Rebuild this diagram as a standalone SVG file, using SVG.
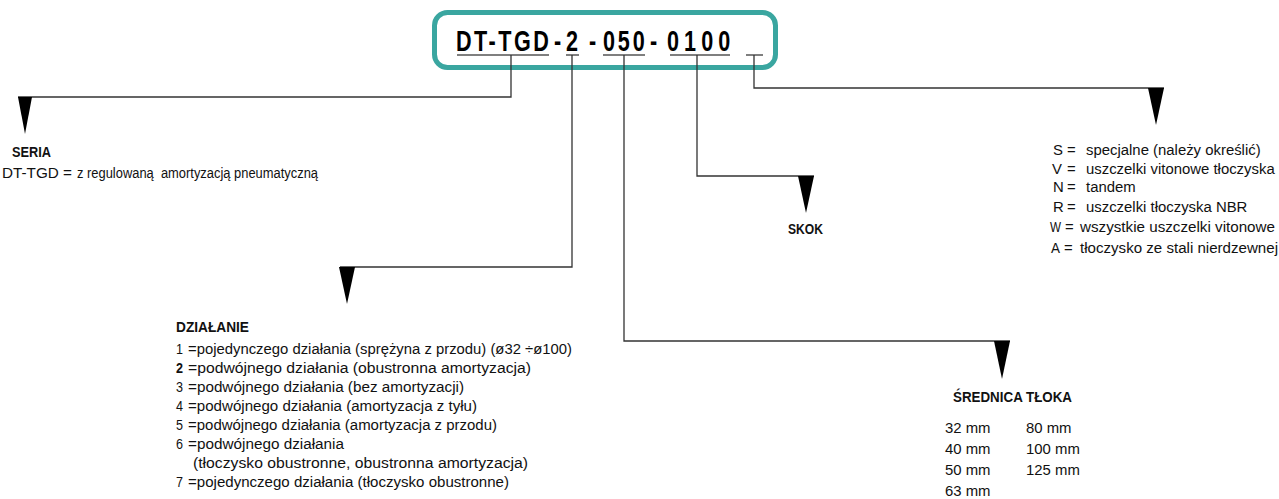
<svg xmlns="http://www.w3.org/2000/svg" width="1279" height="499" viewBox="0 0 1279 499">
<style>
.t{font-family:"Liberation Sans","Noto Sans",sans-serif;font-size:14.9px;fill:#111}
.h{font-family:"Liberation Sans","Noto Sans",sans-serif;font-size:14.5px;font-weight:bold;fill:#111}
.code{font-family:"Liberation Sans","Noto Sans",sans-serif;font-size:30px;font-weight:bold;fill:#000}
.ul{stroke:#555;stroke-width:1.4;fill:none}
.c{stroke:#333;stroke-width:1.3;fill:none}
.ar{fill:#000}
</style>
<g id="code">
<rect x="434.5" y="12.5" width="341" height="55" rx="13" fill="#fff" stroke="#3aa6a0" stroke-width="5"/>
<g transform="translate(456,51) scale(0.72,1)"><text class="code" x="0" y="0" textLength="129" lengthAdjust="spacing">DT-TGD</text></g>
<g transform="translate(554,51) scale(0.72,1)"><text class="code" x="0" y="0">-</text></g>
<g transform="translate(566,51) scale(0.72,1)"><text class="code" x="0" y="0">2</text></g>
<g transform="translate(589,51) scale(0.72,1)"><text class="code" x="0" y="0">-</text></g>
<g transform="translate(603,51) scale(0.72,1)"><text class="code" x="0" y="0" textLength="58" lengthAdjust="spacing">050</text></g>
<g transform="translate(650,51) scale(0.72,1)"><text class="code" x="0" y="0">-</text></g>
<g transform="translate(667,51) scale(0.72,1)"><text class="code" x="0" y="0" textLength="88" lengthAdjust="spacing">0100</text></g>
<path class="ul" d="M457,55H549M566,55H579M603,55H645M670,55H730M746,55H763"/>
</g>
<g id="connectors">
<path class="c" d="M511,55V97H18"/>
<path class="c" d="M572,55V267H340"/>
<path class="c" d="M624,55V341H1010"/>
<path class="c" d="M697,55V176H814"/>
<path class="c" d="M754,55V88H1164"/>
<polygon class="ar" points="18,97 32,97 25,134"/>
<polygon class="ar" points="339,267 355,267 347,304"/>
<polygon class="ar" points="994,341 1010,341 1002,379"/>
<polygon class="ar" points="798,176 814,176 806,213"/>
<polygon class="ar" points="1148,88 1164,88 1156,125"/>
</g>
<g id="seria">
<text class="h" x="12" y="157" textLength="39" lengthAdjust="spacingAndGlyphs">SERIA</text>
<text class="t" x="2" y="178" textLength="70" lengthAdjust="spacingAndGlyphs">DT-TGD =</text>
<text class="t" x="77" y="178" textLength="241" lengthAdjust="spacingAndGlyphs" xml:space="preserve">z regulowaną  amortyzacją pneumatyczną</text>
</g>
<g id="dzialanie">
<text class="h" x="176" y="332" textLength="73" lengthAdjust="spacingAndGlyphs">DZIAŁANIE</text>
<text class="t" x="176" y="354" textLength="7" lengthAdjust="spacingAndGlyphs">1</text>
<text class="t" x="188" y="354" textLength="384" lengthAdjust="spacingAndGlyphs">=pojedynczego działania (sprężyna z przodu) (ø32 ÷ø100)</text>
<text class="t" x="176" y="373" font-weight="bold" textLength="7" lengthAdjust="spacingAndGlyphs">2</text>
<text class="t" x="188" y="373" textLength="343" lengthAdjust="spacingAndGlyphs">=podwójnego działania (obustronna amortyzacja)</text>
<text class="t" x="176" y="392" textLength="7" lengthAdjust="spacingAndGlyphs">3</text>
<text class="t" x="188" y="392" textLength="276" lengthAdjust="spacingAndGlyphs">=podwójnego działania (bez amortyzacji)</text>
<text class="t" x="176" y="411" textLength="7" lengthAdjust="spacingAndGlyphs">4</text>
<text class="t" x="188" y="411" textLength="289" lengthAdjust="spacingAndGlyphs">=podwójnego działania (amortyzacja z tyłu)</text>
<text class="t" x="176" y="430" textLength="7" lengthAdjust="spacingAndGlyphs">5</text>
<text class="t" x="188" y="430" textLength="309" lengthAdjust="spacingAndGlyphs">=podwójnego działania (amortyzacja z przodu)</text>
<text class="t" x="176" y="449" textLength="7" lengthAdjust="spacingAndGlyphs">6</text>
<text class="t" x="188" y="449" textLength="156" lengthAdjust="spacingAndGlyphs">=podwójnego działania</text>
<text class="t" x="193" y="468" textLength="335" lengthAdjust="spacingAndGlyphs">(tłoczysko obustronne, obustronna amortyzacja)</text>
<text class="t" x="176" y="487" textLength="7" lengthAdjust="spacingAndGlyphs">7</text>
<text class="t" x="188" y="487" textLength="321" lengthAdjust="spacingAndGlyphs">=pojedynczego działania (tłoczysko obustronne)</text>
</g>
<g id="skok">
<text class="h" x="788" y="234" textLength="35" lengthAdjust="spacingAndGlyphs">SKOK</text>
</g>
<g id="opcje">
<text class="t" x="1053" y="155">S</text><text class="t" x="1067" y="155">=</text><text class="t" x="1086" y="155">specjalne (należy określić)</text>
<text class="t" x="1052" y="174">V</text><text class="t" x="1067" y="174">=</text><text class="t" x="1086" y="174">uszczelki vitonowe tłoczyska</text>
<text class="t" x="1053" y="192">N</text><text class="t" x="1067" y="192">=</text><text class="t" x="1086" y="192">tandem</text>
<text class="t" x="1053" y="212">R</text><text class="t" x="1067" y="212">=</text><text class="t" x="1086" y="212">uszczelki tłoczyska NBR</text>
<text class="t" x="1050" y="232" textLength="11" lengthAdjust="spacingAndGlyphs">W</text><text class="t" x="1065" y="232">=</text><text class="t" x="1080" y="232" textLength="195" lengthAdjust="spacingAndGlyphs">wszystkie uszczelki vitonowe</text>
<text class="t" x="1051" y="253" textLength="9" lengthAdjust="spacingAndGlyphs">A</text><text class="t" x="1064" y="253">=</text><text class="t" x="1080" y="253" textLength="198" lengthAdjust="spacingAndGlyphs">tłoczysko ze stali nierdzewnej</text>
</g>
<g id="srednica">
<text class="h" x="953" y="402" textLength="119" lengthAdjust="spacingAndGlyphs">ŚREDNICA TŁOKA</text>
<text class="t" x="945" y="433">32 mm</text><text class="t" x="1026" y="433">80 mm</text>
<text class="t" x="945" y="454">40 mm</text><text class="t" x="1026" y="454">100 mm</text>
<text class="t" x="945" y="475">50 mm</text><text class="t" x="1026" y="475">125 mm</text>
<text class="t" x="945" y="496">63 mm</text>
</g>
</svg>
